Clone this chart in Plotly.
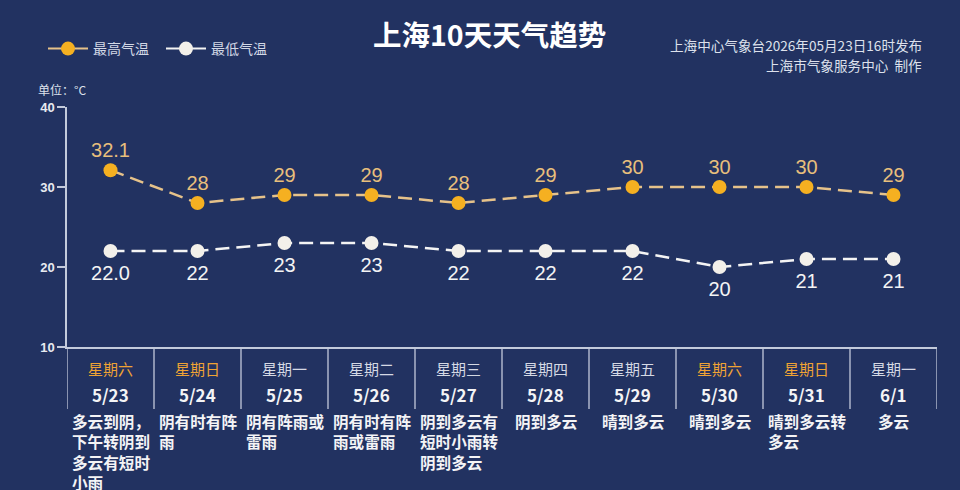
import plotly.graph_objects as go

weekdays = ["星期六", "星期日", "星期一", "星期二", "星期三", "星期四", "星期五", "星期六", "星期日", "星期一"]
dates = ["5/23", "5/24", "5/25", "5/26", "5/27", "5/28", "5/29", "5/30", "5/31", "6/1"]
descs = ["多云到阴，<br>下午转阴到<br>多云有短时<br>小雨", "阴有时有阵<br>雨", "阴有阵雨或<br>雷雨",
         "阴有时有阵<br>雨或雷雨", "阴到多云有<br>短时小雨转<br>阴到多云", "阴到多云", "晴到多云",
         "晴到多云", "晴到多云转<br>多云", "多云"]
high = [32.1, 28, 29, 29, 28, 29, 30, 30, 30, 29]
low = [22.0, 22, 23, 23, 22, 22, 22, 20, 21, 21]
high_labels = ["32.1", "28", "29", "29", "28", "29", "30", "30", "30", "29"]
low_labels = ["22.0", "22", "23", "23", "22", "22", "22", "20", "21", "21"]
y_ticks = [10, 20, 30, 40]
weekend = ["星期六", "星期日"]

BG = "#223261"
AXIS = "#C3CADB"
ORANGE = "#F5B021"
ORANGE_LINE = "#E6C28A"
ORANGE_TXT = "#E8BF7C"
WHITE = "#F3F0EA"
CJK = "Noto Sans CJK SC"
NUM = "Liberation Sans, Arial"

fig = go.Figure()

fig.add_trace(go.Scatter(
    x=dates, y=high, mode="lines+markers",
    line=dict(color=ORANGE_LINE, width=2.5, dash="14px,7px"),
    marker=dict(color=ORANGE, size=14), showlegend=False, cliponaxis=False))
fig.add_trace(go.Scatter(
    x=dates, y=low, mode="lines+markers",
    line=dict(color="#F4F4F4", width=2.5, dash="14px,7px"),
    marker=dict(color=WHITE, size=14), showlegend=False, cliponaxis=False))

# value labels
fig.add_trace(go.Scatter(
    x=dates, y=high, mode="markers+text", text=high_labels, textposition="top center",
    textfont=dict(family=NUM, size=20, color=ORANGE_TXT),
    marker=dict(size=11, opacity=0), showlegend=False, hoverinfo="skip", cliponaxis=False))
fig.add_trace(go.Scatter(
    x=dates, y=low, mode="markers+text", text=low_labels, textposition="bottom center",
    textfont=dict(family=NUM, size=20, color="#F4F4F4"),
    marker=dict(size=20, opacity=0), showlegend=False, hoverinfo="skip", cliponaxis=False))

# legend entries
fig.add_trace(go.Scatter(x=[None], y=[None], mode="lines+markers", name="最高气温",
                         line=dict(color=ORANGE_LINE, width=2), marker=dict(color=ORANGE, size=14)))
fig.add_trace(go.Scatter(x=[None], y=[None], mode="lines+markers", name="最低气温",
                         line=dict(color="#F4F4F4", width=2), marker=dict(color=WHITE, size=14)))

shapes = []
for i in range(len(dates) + 1):
    shapes.append(dict(type="line", xref="x", yref="paper", x0=i - 0.5, x1=i - 0.5,
                       y0=0, y1=-62 / 240, line=dict(color=AXIS, width=1.3)))

annotations = []
for i, d in enumerate(dates):
    annotations.append(dict(x=d, y=0, xref="x", yref="paper", yanchor="middle", yshift=-21,
                            text=weekdays[i], showarrow=False,
                            font=dict(family=CJK, size=15,
                                      color="#EFA334" if weekdays[i] in weekend else "#D5D9E4")))
    annotations.append(dict(x=d, y=0, xref="x", yref="paper", yanchor="middle", yshift=-47,
                            text=d, showarrow=False,
                            font=dict(family=CJK, size=17, color="#F4F4F6", weight=700)))
    annotations.append(dict(x=d, y=0, xref="x", yref="paper", yanchor="top", yshift=-61,
                            text=descs[i], showarrow=False, align="left",
                            font=dict(family=CJK, size=15.6, color="#F4F4F6", weight=700)))

annotations += [
    dict(x=(489 - 67) / 870, y=(347 - 33) / 240, xref="paper", yref="paper", xanchor="center",
         yanchor="middle", text="上海10天天气趋势", showarrow=False,
         font=dict(family=CJK, size=28.5, color="#FFFFFF", weight=700)),
    dict(x=(924 - 67) / 870, y=(347 - 45) / 240, xref="paper", yref="paper", xanchor="right",
         yanchor="middle", text="上海中心气象台2026年05月23日16时发布", showarrow=False,
         font=dict(family=CJK, size=13.6, color="#DDE1EC")),
    dict(x=(924 - 67) / 870, y=(347 - 65) / 240, xref="paper", yref="paper", xanchor="right",
         yanchor="middle", text="上海市气象服务中心  制作", showarrow=False,
         font=dict(family=CJK, size=13.6, color="#DDE1EC")),
    dict(x=(36 - 67) / 870, y=(347 - 89) / 240, xref="paper", yref="paper", xanchor="left",
         yanchor="middle", text="单位：°C", showarrow=False,
         font=dict(family=CJK, size=12, color="#DDE1EC")),
]

fig.update_layout(
    width=960, height=490, autosize=False,
    paper_bgcolor=BG, plot_bgcolor=BG,
    margin=dict(l=67, r=23, t=107, b=143),
    xaxis=dict(type="category", range=[-0.5, 9.5], showgrid=False, zeroline=False,
               showline=True, linecolor=AXIS, linewidth=1.5, showticklabels=False, ticks=""),
    yaxis=dict(range=[10, 40], tickvals=y_ticks, showgrid=False, zeroline=False,
               showline=True, linecolor=AXIS, linewidth=1.5, ticks="outside", ticklen=8,
               tickcolor=AXIS, tickwidth=1.5,
               tickfont=dict(family=NUM, size=13, color="#E8EAF0", weight=700)),
    legend=dict(orientation="h", x=(43 - 67) / 870, y=(347 - 49) / 240, xanchor="left",
                yanchor="middle", entrywidth=63, itemwidth=40, bgcolor="rgba(0,0,0,0)",
                font=dict(family=CJK, size=14, color="#D3D8E6")),
    shapes=shapes, annotations=annotations,
)

fig.write_html("out.html", config={"displayModeBar": False},
               post_script="document.body.style.margin='0';document.body.style.overflow='hidden';")
